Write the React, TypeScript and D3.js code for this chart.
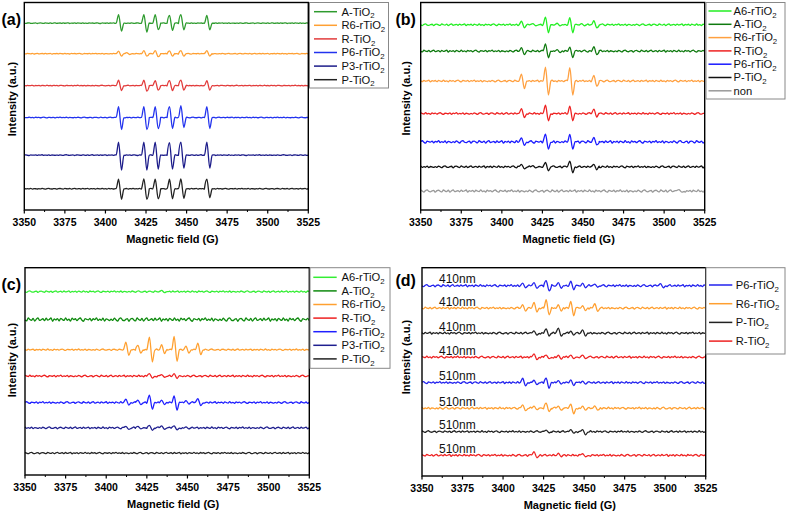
import React from 'react';
import * as d3 from 'd3';

// ---------- shared data ----------
const FIELD_DOMAIN: [number, number] = [3350, 3525];
const MAJOR_TICKS = [3350, 3375, 3400, 3425, 3450, 3475, 3500, 3525];
const MINOR_TICKS = [3362.5, 3387.5, 3412.5, 3437.5, 3462.5, 3487.5, 3512.5];
const X_TITLE = 'Magnetic field (G)';
const Y_TITLE = 'Intensity (a.u.)';

// hand-typed baseline ripple (detector noise texture)
const RIPPLE = [0.2, -0.5, 0.7, -0.1, -0.8, 0.4, 0.9, -0.3, -0.6, 0.1, 0.5, -0.9, 0.3, 0.6, -0.2, -0.7, 0.8, 0.0,
  -0.4, 0.6, -0.8, 0.2, 0.9, -0.5, -0.1, 0.4, -0.6, 0.7, -0.3, 0.1, 0.8, -0.9, 0.3, -0.2, 0.5, -0.7, 0.6, 0.0,
  -0.5, 0.9, -0.4, 0.2, -0.8, 0.7, -0.1, 0.4, -0.6, 0.3, 0.8, -0.3, -0.9, 0.5, 0.1, -0.2, 0.6, -0.7, 0.4, -0.1,
  0.9, -0.5, 0.2, -0.4, 0.7, -0.8, 0.3, 0.0, -0.6];

type Peak = [number, number, number]; // [field G, up amplitude, down amplitude]

// ---------- panel (a) ----------
const A_NAMES = ['A-TiO2', 'R6-rTiO2', 'R-TiO2', 'P6-rTiO2', 'P3-rTiO2', 'P-TiO2'];
const A_OFFSETS = [187.3, 156.7, 124.7, 92.7, 55, 21.3];
const A_RIPPLE = [0.4, 0.4, 0.4, 0.4, 0.4, 0.4];
const A_PEAKS: Peak[][] = [
  [[3409, 8.5, 8], [3424.6, 8.5, 9], [3431.6, 8.5, 6.5], [3440.4, 7.7, 7.3], [3447.4, 8.5, 6.7], [3463.4, 7.7, 6.7]],
  [[3409, 2.5, 2.5], [3414, 1, 0.8], [3424.6, 3, 2.5], [3431.6, 3, 3], [3440.4, 2.8, 2.5], [3447.4, 3, 2.5], [3463.4, 3, 2.5]],
  [[3409, 5.5, 5], [3424.6, 5.5, 5.5], [3431.6, 5, 4.5], [3440.4, 5, 5], [3447.4, 5.5, 4.5], [3463.4, 5, 4.5]],
  [[3409, 11, 12], [3424.6, 11, 12], [3431.6, 11, 11], [3440.4, 11, 11], [3447.4, 12, 10], [3463.4, 11, 11]],
  [[3409, 13, 15], [3424.6, 13, 15], [3431.6, 13, 14], [3440.4, 12.5, 14], [3447.4, 13, 13], [3463.4, 13, 13]],
  [[3409, 9.5, 10.5], [3424.6, 10, 10.5], [3431.6, 9.5, 10], [3440.4, 9.5, 10], [3447.4, 10, 9.5], [3463.4, 9.5, 9]],
];

// ---------- panel (b) ----------
const B_NAMES = ['A6-rTiO2', 'A-TiO2', 'R6-rTiO2', 'R-TiO2', 'P6-rTiO2', 'P-TiO2', 'non'];
const B_OFFSETS = [185.7, 159.3, 129.3, 96.7, 68.3, 43.3, 19];
const B_RIPPLE = [1.0, 1.1, 1.0, 1.0, 1.4, 1.1, 1.3];
const B_PEAKS: Peak[][] = [
  [[3413, 3.5, 3], [3420, 1.2, 1], [3427.8, 7.7, 8], [3435, 1.5, 1.2], [3442.8, 7, 8], [3450, 1.2, 1], [3457.6, 4, 3]],
  [[3413, 3.5, 3.5], [3427.8, 7.3, 6.7], [3435, 1.5, 1.5], [3442.8, 4, 6.5], [3457.6, 4.5, 3.5]],
  [[3413, 7, 7.7], [3427.8, 14, 14], [3442.8, 13.5, 14], [3457.6, 5.5, 5]],
  [[3413, 5, 4], [3427.8, 8.3, 7.3], [3442.8, 7.5, 7.3], [3457.6, 4.5, 3.5]],
  [[3413, 4, 3.5], [3427.8, 7.7, 7.3], [3442.8, 7.5, 7.3], [3457.6, 4.5, 3]],
  [[3413, 2.5, 2], [3420, 1.2, 1], [3427.8, 4.3, 4], [3442.8, 5.7, 6], [3457.6, 2.5, 3]],
  [[3510, 1.5, 1]],
];

// ---------- panel (c) ----------
const C_NAMES = ['A6-rTiO2', 'A-TiO2', 'R6-rTiO2', 'R-TiO2', 'P6-rTiO2', 'P3-rTiO2', 'P-TiO2'];
const C_OFFSETS = [184, 156, 125.7, 99.3, 72.7, 47.3, 22];
const C_RIPPLE = [0.9, 1.9, 0.8, 1.0, 1.0, 1.0, 0.8];
const C_PEAKS: Peak[][] = [
  [[3435, 1.2, 1]],
  [],
  [[3413, 7.7, 5.7], [3420.4, 4.3, 3.5], [3427.5, 12.7, 12.3], [3435, 5, 4], [3442.7, 13.3, 11.7], [3450, 3.7, 3.5], [3457.3, 6.7, 5]],
  [[3427.5, 2.5, 2], [3435, 1.5, 1.2], [3442.7, 2.5, 2.5]],
  [[3413, 3.3, 2.5], [3420.4, 2.5, 2], [3427.5, 7.3, 6.7], [3435, 2.5, 2], [3442.7, 6.7, 7.7], [3450, 2, 1.5], [3457.3, 4, 3]],
  [[3413, 1.5, 1.5], [3420.4, 1.5, 1], [3427.5, 2.5, 2.5], [3435, 2, 1.5], [3442.7, 2, 2], [3450, 1, 1]],
  [],
];

// ---------- panel (d) ----------
const D_LEGEND = ['P6-rTiO2', 'R6-rTiO2', 'P-TiO2', 'R-TiO2'];
const D_LABELS = ['410nm', '410nm', '410nm', '410nm', '510nm', '510nm', '510nm', '510nm'];
const D_SAMPLE = [0, 1, 2, 3, 0, 1, 2, 3]; // index into D_LEGEND
const D_OFFSETS = [190, 167.7, 142.7, 118.7, 93.3, 67.7, 44.3, 20.7];
const D_RIPPLE = [1.2, 1.1, 1.1, 1.1, 1.1, 1.1, 1.0, 1.1];
const D_PEAKS: Peak[][] = [
  [[3413, 2.5, 2], [3420, 3, 2.5], [3427.5, 5, 5], [3435, 3, 2.5], [3442.7, 4.5, 4], [3450, 2.5, 2], [3457.5, 1.5, 1.5], [3498, 2, 2]],
  [[3413, 3.3, 3], [3420, 5.7, 4], [3427.5, 8.3, 6.7], [3435, 3.3, 3], [3442.7, 6.7, 7.7], [3450, 2.3, 2.5], [3457.5, 4.3, 3.3]],
  [[3420, 2.3, 2], [3427.5, 4.3, 3], [3435, 5, 3], [3442.7, 2, 2], [3450, 3.3, 3]],
  [[3420, 3.3, 2.5], [3427.5, 2, 1.5], [3435, 2, 2], [3442.7, 2, 1.5], [3450, 2, 1.5]],
  [[3413, 4.3, 3.3], [3420, 2.3, 2], [3427.5, 4.3, 5.7], [3435, 2, 1.5], [3442.7, 2.7, 3], [3450, 1.5, 1.5]],
  [[3413, 3.3, 2.5], [3420, 2, 1.5], [3427.5, 5, 3.3], [3435, 2, 2], [3442.7, 4, 5.7], [3450, 2, 2], [3457.5, 2.3, 2]],
  [[3427.5, 1.5, 1.2], [3442.7, 2, 1.5], [3450, 2, 3.3]],
  [[3420, 3.7, 2.5], [3435, 2, 1.5], [3450, 1.5, 1.5]],
];

// ---------- styles ----------
const A_COLORS = ['#2e9b2e', '#ffa033', '#e23c3c', '#2233ee', '#1c1c8a', '#222222'];
const B_COLORS = ['#22ee22', '#0f7a0f', '#ffa040', '#ee2222', '#1a1aff', '#111111', '#999999'];
const C_COLORS = ['#33ee33', '#0f8a0f', '#ffa030', '#ee1f1f', '#1f1fff', '#1f1f8f', '#222222'];
const D_COLORS = ['#2222ee', '#ff9f30', '#222222', '#ee2222'];
const FONT = "'Liberation Sans', Arial, sans-serif";

function buildTrace(offset: number, peaks: Peak[], ripple: number, phase: number): [number, number][] {
  const pts: [number, number][] = [];
  const n = RIPPLE.length;
  let i = 0;
  for (let f = FIELD_DOMAIN[0]; f <= FIELD_DOMAIN[1] + 1e-9; f += 1, i++) {
    if (peaks.some((p) => Math.abs(f - p[0]) < 2.4)) continue;
    pts.push([f, offset + ripple * RIPPLE[(i + phase) % n]]);
  }
  peaks.forEach(([c, up, down], k) => {
    const r = ripple * 0.5 * RIPPLE[(k * 7 + phase) % n];
    pts.push([c - 2.4, offset + r]);
    pts.push([c - 0.9, offset + up]);
    pts.push([c + 0.9, offset - down]);
    pts.push([c + 2.4, offset - r]);
  });
  pts.sort((a, b) => a[0] - b[0]);
  return pts;
}

function Label({ name, x, y, size }: { name: string; x: number; y: number; size: number }) {
  const sub = name.endsWith('2');
  return (
    <text x={x} y={y} fontSize={size} fontFamily={FONT} fill="#111">
      {sub ? name.slice(0, -1) : name}
      {sub && (
        <tspan fontSize={size * 0.7} dy={2.8}>
          2
        </tspan>
      )}
    </text>
  );
}

type Layout = {
  left: number; right: number; top: number; bottom: number;
  tag: string; tagX: number; tagY: number;
  yTitleX: number; yTitleY: number;
  legX0: number; legX1: number; legY0: number; legY1: number;
  rowY0: number; rowDy: number; lineX0: number; lineX1: number; textX: number;
};

function Panel({ lay, offsets, peaks, ripples, colors, legendNames, legendColors, traceLabels }: {
  lay: Layout; offsets: number[]; peaks: Peak[][]; ripples: number[]; colors: string[];
  legendNames: string[]; legendColors: string[]; traceLabels?: string[];
}) {
  const x = d3.scaleLinear().domain(FIELD_DOMAIN).range([lay.left, lay.right]);
  const y = d3.scaleLinear().domain([0, 208]).range([lay.bottom, lay.top]);
  const line = d3.line<[number, number]>().x((d) => x(d[0])).y((d) => y(d[1])).curve(d3.curveMonotoneX);
  return (
    <g>
      {offsets.map((o, i) => (
        <path key={i} d={line(buildTrace(o, peaks[i], ripples[i], i * 11 + 3)) || ''} fill="none"
          stroke={colors[i]} strokeWidth={1.3} strokeLinejoin="round" />
      ))}
      {traceLabels && traceLabels.map((t, i) => (
        <text key={'l' + i} x={lay.left + 17} y={y(offsets[i]) - 2.5} fontSize={12} fontFamily={FONT} fill="#111">{t}</text>
      ))}
      <rect x={lay.left} y={lay.top} width={lay.right - lay.left} height={lay.bottom - lay.top}
        fill="none" stroke="#000" strokeWidth={1.4} />
      {MAJOR_TICKS.map((t) => (
        <g key={t}>
          <line x1={x(t)} x2={x(t)} y1={lay.bottom} y2={lay.bottom + 3.5} stroke="#000" strokeWidth={1.2} />
          <text x={x(t)} y={lay.bottom + 15.5} textAnchor="middle" fontSize={10.5} fontWeight="bold" fontFamily={FONT}>{t}</text>
        </g>
      ))}
      {MINOR_TICKS.map((t) => (
        <line key={t} x1={x(t)} x2={x(t)} y1={lay.bottom} y2={lay.bottom + 2} stroke="#000" strokeWidth={1} />
      ))}
      <text x={(lay.left + lay.right) / 2 + 6} y={lay.bottom + 32.5} textAnchor="middle" fontSize={11}
        fontWeight="bold" fontFamily={FONT}>{X_TITLE}</text>
      <text transform={`translate(${lay.yTitleX},${lay.yTitleY}) rotate(-90)`} dy="0.35em" textAnchor="middle"
        fontSize={11} fontWeight="bold" fontFamily={FONT}>{Y_TITLE}</text>
      <text x={lay.tagX} y={lay.tagY} fontSize={16} fontWeight="bold" fontFamily={FONT}>{lay.tag}</text>
      <rect x={lay.legX0} y={lay.legY0} width={lay.legX1 - lay.legX0} height={lay.legY1 - lay.legY0}
        fill="#fff" stroke="#888" strokeWidth={1} />
      {legendNames.map((nm, i) => {
        const ry = lay.rowY0 + i * lay.rowDy;
        return (
          <g key={nm + i}>
            <line x1={lay.lineX0} x2={lay.lineX1} y1={ry} y2={ry} stroke={legendColors[i]} strokeWidth={1.5} />
            <Label name={nm} x={lay.textX} y={ry + 3.8} size={11.2} />
          </g>
        );
      })}
    </g>
  );
}

const LAY_A: Layout = { left: 24.3, right: 308.3, top: 2.5, bottom: 210, tag: '(a)', tagX: 1.5, tagY: 25,
  yTitleX: 12, yTitleY: 99, legX0: 309.5, legX1: 388.5, legY0: 2.5, legY1: 88, rowY0: 11.7, rowDy: 13.6,
  lineX0: 314, lineX1: 337, textX: 341.5 };
const LAY_B: Layout = { left: 420.7, right: 704.7, top: 2.5, bottom: 210, tag: '(b)', tagX: 395.5, tagY: 24.5,
  yTitleX: 406.3, yTitleY: 98.3, legX0: 706, legX1: 785, legY0: 2.5, legY1: 99, rowY0: 11, rowDy: 13.3,
  lineX0: 708.5, lineX1: 731.5, textX: 733.5 };
const LAY_C: Layout = { left: 25, right: 309.3, top: 267.7, bottom: 475, tag: '(c)', tagX: 1.5, tagY: 290,
  yTitleX: 12.3, yTitleY: 360, legX0: 310, legX1: 390, legY0: 267.7, legY1: 368.3, rowY0: 277.3, rowDy: 13.6,
  lineX0: 313.3, lineX1: 336.7, textX: 341.5 };
const LAY_D: Layout = { left: 422, right: 705.7, top: 267.7, bottom: 476, tag: '(d)', tagX: 395.5, tagY: 285.5,
  yTitleX: 406.3, yTitleY: 357, legX0: 706, legX1: 785, legY0: 267.7, legY1: 354, rowY0: 285, rowDy: 18.7,
  lineX0: 709, lineX1: 732.3, textX: 735.7 };

export default function App() {
  const dColors = D_SAMPLE.map((s) => D_COLORS[s]);
  return (
    <svg width={787} height={513} style={{ position: 'absolute', left: 0, top: 0, background: '#fff' }}>
      <rect width={787} height={513} fill="#fff" />
      <Panel lay={LAY_A} offsets={A_OFFSETS} peaks={A_PEAKS} ripples={A_RIPPLE} colors={A_COLORS}
        legendNames={A_NAMES} legendColors={A_COLORS} />
      <Panel lay={LAY_B} offsets={B_OFFSETS} peaks={B_PEAKS} ripples={B_RIPPLE} colors={B_COLORS}
        legendNames={B_NAMES} legendColors={B_COLORS} />
      <Panel lay={LAY_C} offsets={C_OFFSETS} peaks={C_PEAKS} ripples={C_RIPPLE} colors={C_COLORS}
        legendNames={C_NAMES} legendColors={C_COLORS} />
      <Panel lay={LAY_D} offsets={D_OFFSETS} peaks={D_PEAKS} ripples={D_RIPPLE} colors={dColors}
        legendNames={D_LEGEND} legendColors={D_COLORS} traceLabels={D_LABELS} />
    </svg>
  );
}
